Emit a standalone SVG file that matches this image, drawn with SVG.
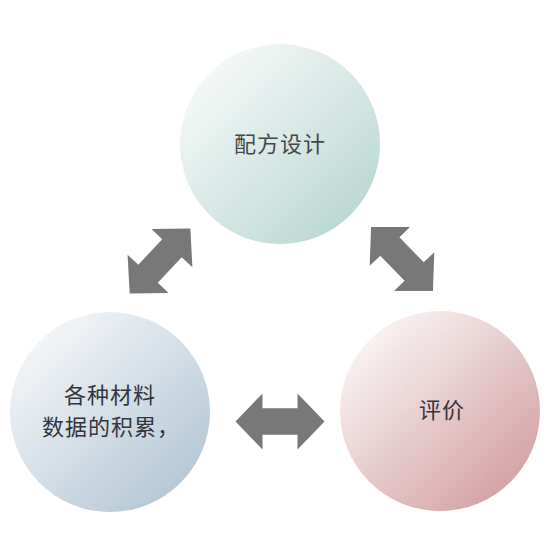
<svg xmlns="http://www.w3.org/2000/svg" width="550" height="550" viewBox="0 0 550 550">
  <defs>
    <linearGradient id="gTop" x1="0.15" y1="0.1" x2="0.9" y2="0.9">
      <stop offset="0" stop-color="#f5f9f8"/>
      <stop offset="1" stop-color="#b9d7d2"/>
    </linearGradient>
    <linearGradient id="gLeft" x1="0.15" y1="0.1" x2="0.9" y2="0.9">
      <stop offset="0" stop-color="#f4f6f8"/>
      <stop offset="1" stop-color="#b2c6d5"/>
    </linearGradient>
    <linearGradient id="gRight" x1="0.15" y1="0.1" x2="0.9" y2="0.9">
      <stop offset="0" stop-color="#faf3f3"/>
      <stop offset="1" stop-color="#d2a0a2"/>
    </linearGradient>
    <polygon id="dblArrow" points="-44.5,0 -17.5,-28 -17.5,-13.3 17.5,-13.3 17.5,-28 44.5,0 17.5,28 17.5,13.3 -17.5,13.3 -17.5,28"/>
  </defs>
  <style>
    .label { font-family: "Noto Sans CJK SC", "Noto Sans", sans-serif; font-size: 22px; fill: #33363f; text-anchor: middle; letter-spacing: 1px; }
    .arrow { fill: #787878; }
  </style>
  <rect width="550" height="550" fill="#ffffff"/>
  <g id="connectors">
    <use href="#dblArrow" class="arrow" transform="translate(160,261) rotate(-47)"/>
    <use href="#dblArrow" class="arrow" transform="translate(402,259) rotate(46)"/>
    <use href="#dblArrow" class="arrow" transform="translate(280,421.5)"/>
  </g>
  <g id="node-design">
    <circle cx="280" cy="144" r="100" fill="url(#gTop)"/>
    <text class="label" x="280" y="152" fill="#44464c" style="fill:#45474d">配方设计</text>
  </g>
  <g id="node-data">
    <circle cx="110" cy="412" r="100" fill="url(#gLeft)"/>
    <text class="label" x="110" y="403">各种材料</text>
    <text class="label" x="111" y="435">数据的积累，</text>
  </g>
  <g id="node-eval">
    <circle cx="440" cy="411" r="100" fill="url(#gRight)"/>
    <text class="label" x="442" y="418">评价</text>
  </g>
</svg>
